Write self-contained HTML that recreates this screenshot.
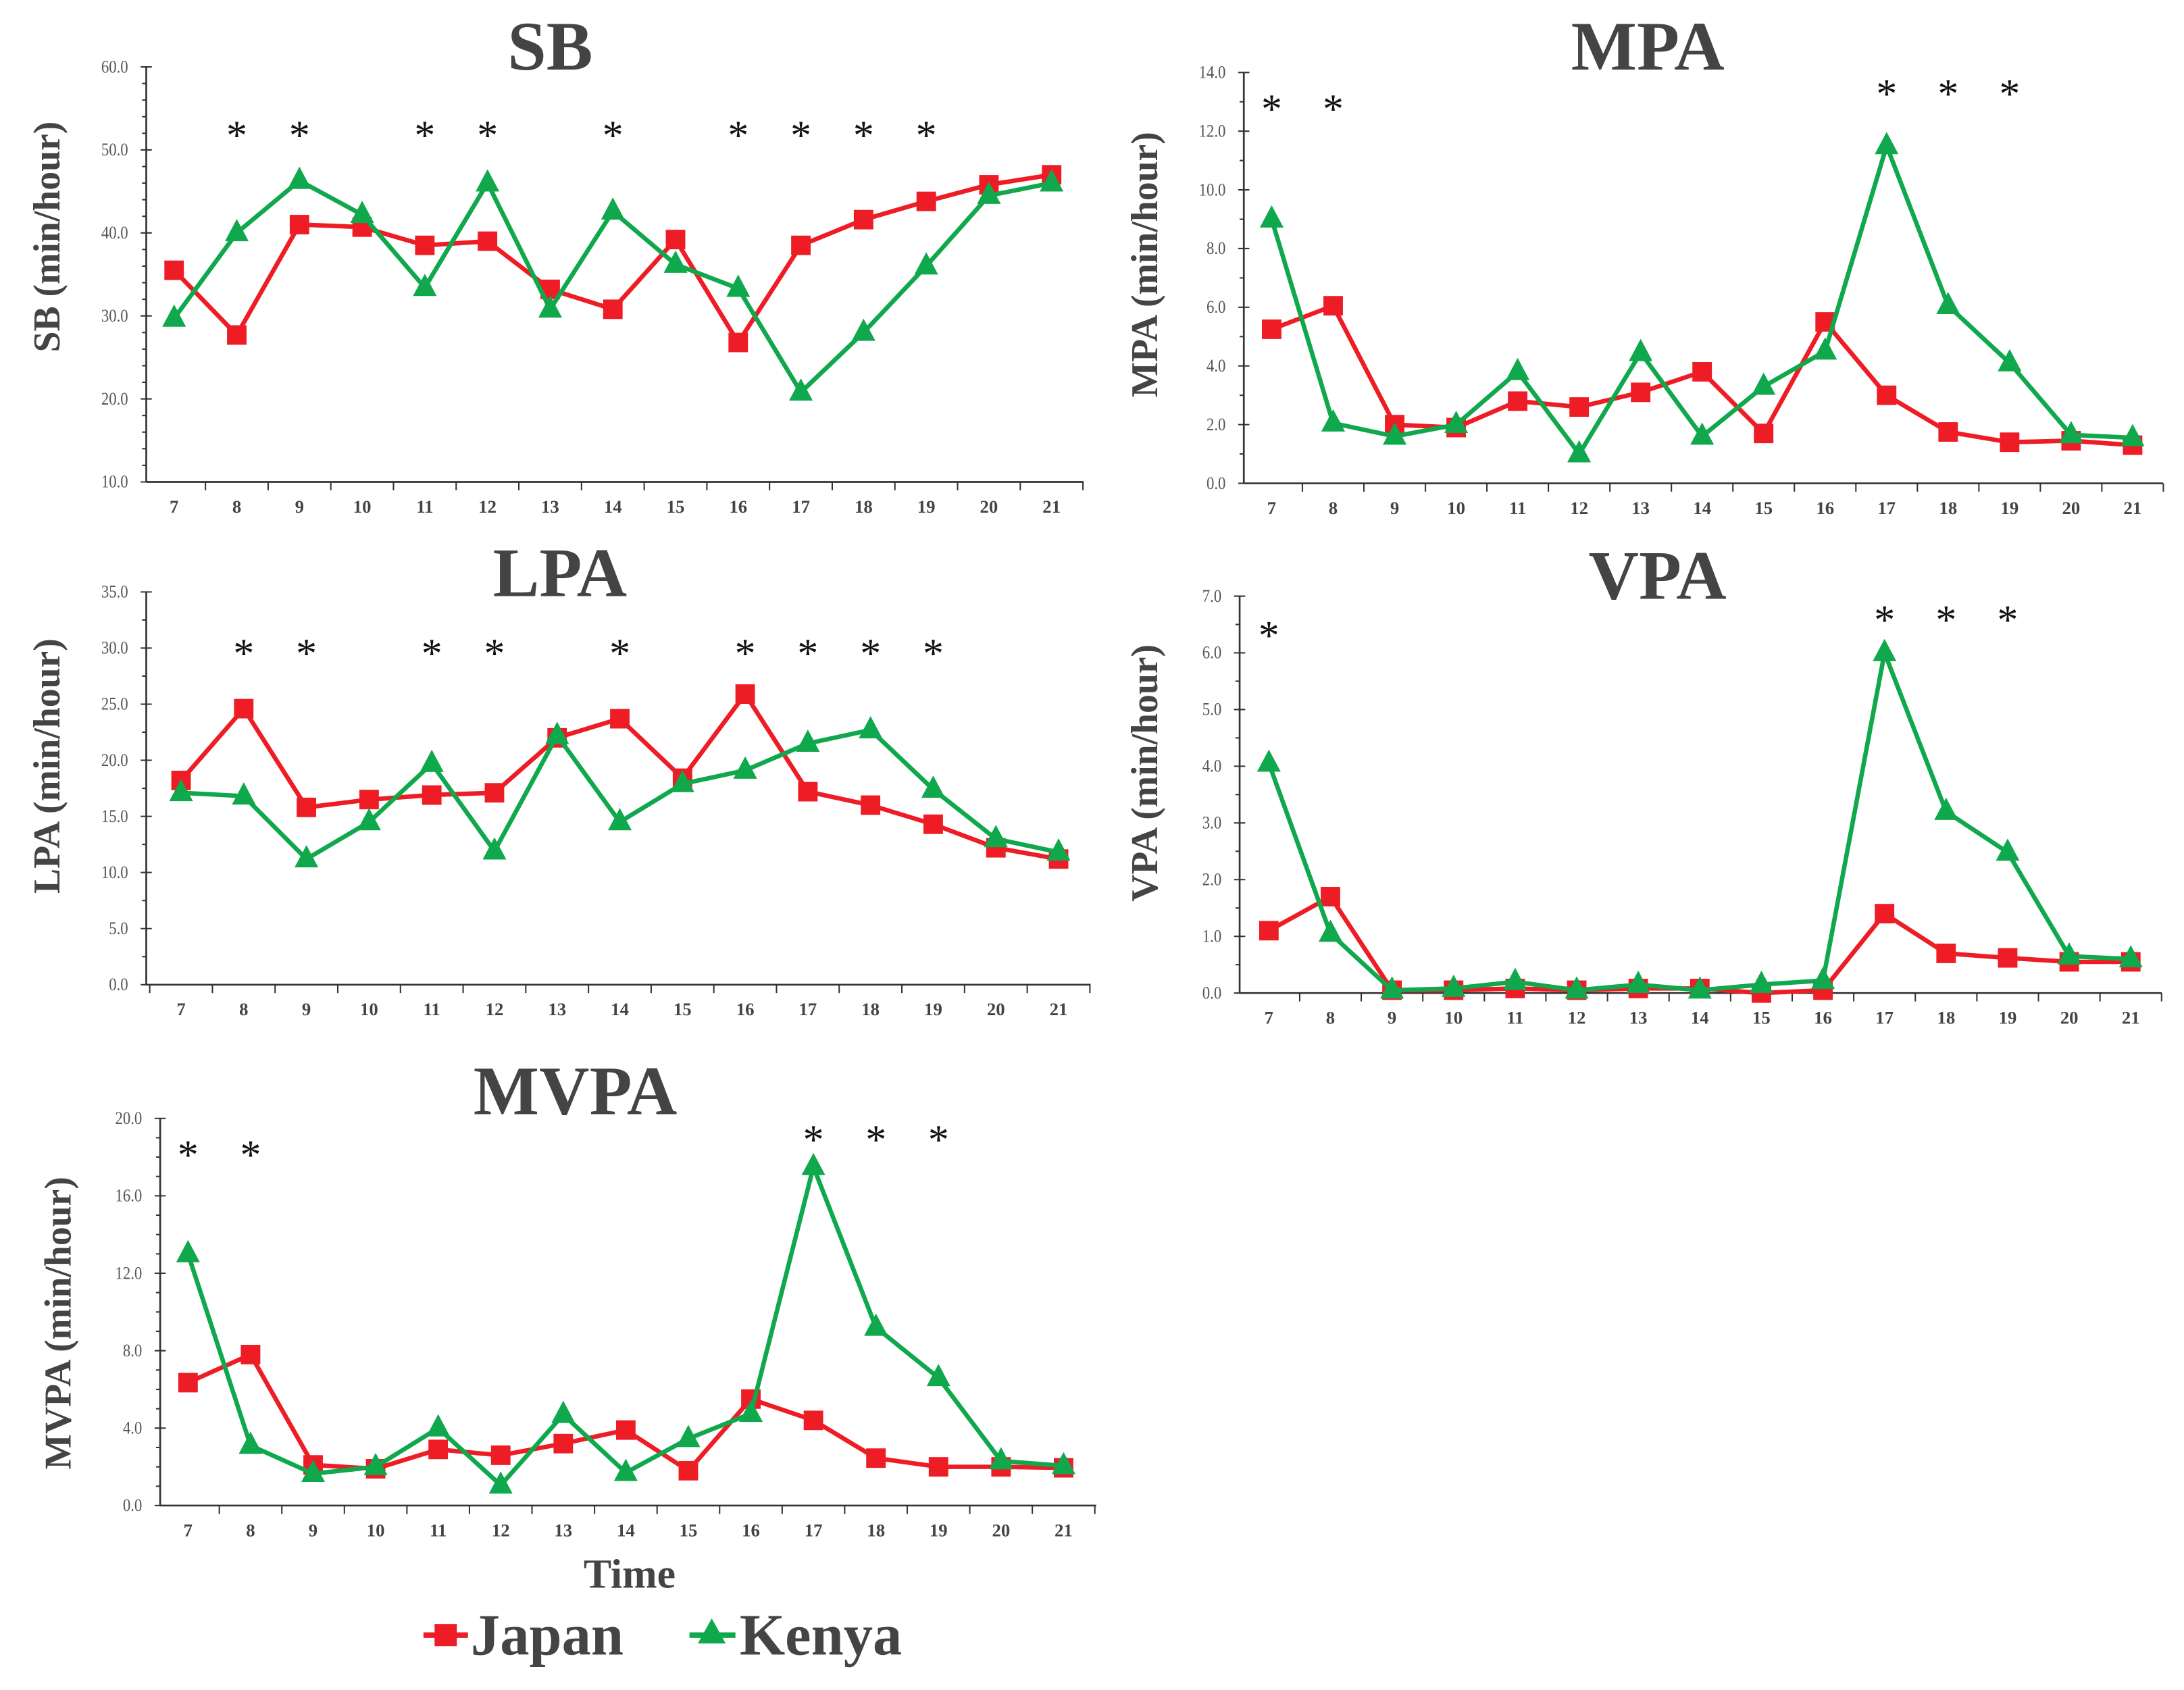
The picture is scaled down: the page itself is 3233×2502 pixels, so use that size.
<!DOCTYPE html>
<html><head><meta charset="utf-8">
<style>html,body{margin:0;padding:0;background:#fff}svg{display:block}</style>
</head><body>
<svg id="fig" width="3233" height="2502" viewBox="0 0 1568 1213.4" xmlns="http://www.w3.org/2000/svg" font-family="'Liberation Serif', serif"></svg>
<script>
const hours = [7,8,9,10,11,12,13,14,15,16,17,18,19,20,21];
const sbJapan = [35.5,27.7,41,40.7,38.5,39,33.2,30.8,39.2,26.8,38.5,41.6,43.8,45.8,47];
const sbKenya = [29.7,40,46.3,42.2,33.4,46,30.8,42.6,36.2,33.3,20.8,28,36,44.5,46];
const mpaJapan = [5.25,6.05,2.0,1.9,2.8,2.6,3.1,3.8,1.7,5.5,3.0,1.75,1.4,1.45,1.3];
const mpaKenya = [9.0,2.05,1.6,2.0,3.8,1.0,4.45,1.6,3.3,4.5,11.5,6.05,4.1,1.65,1.55];
const lpaJapan = [18.2,24.6,15.8,16.5,16.9,17.1,22,23.7,18.4,25.9,17.2,16,14.3,12.2,11.2];
const lpaKenya = [17.1,16.8,11.2,14.5,19.7,11.9,22.2,14.5,17.9,19.1,21.5,22.7,17.4,13,11.8];
const vpaJapan = [1.1,1.7,0.05,0.05,0.08,0.05,0.08,0.08,0.0,0.05,1.4,0.7,0.62,0.55,0.55];
const vpaKenya = [4.05,1.05,0.05,0.08,0.2,0.05,0.15,0.05,0.15,0.22,6.0,3.2,2.48,0.65,0.6];
const mvpaJapan = [6.35,7.8,2.1,1.9,2.9,2.6,3.2,3.9,1.8,5.5,4.4,2.45,2.0,2.0,1.95];
const mvpaKenya = [13.0,3.1,1.65,2.0,4.0,1.05,4.7,1.7,3.45,4.75,17.5,9.2,6.6,2.3,2.05];
const sbTicks = [10,20,30,40,50,60];
const mpaTicks = [0,2,4,6,8,10,12,14];
const lpaTicks = [0,5,10,15,20,25,30,35];
const vpaTicks = [0,1,2,3,4,5,6,7];
const mvpaTicks = [0,4,8,12,16,20];
const sbStars = [8,9,11,12,14,16,17,18,19];
const mpaStars = [7,8,17,18,19];
const lpaStars = [8,9,11,12,14,16,17,18,19];
const vpaStars = [7,17,18,19];
const mvpaStars = [7,8,17,18,19];

const NS = "http://www.w3.org/2000/svg";
const svg = document.getElementById('fig');
const RED = "#ee1c25", GREEN = "#10a84c";
function mk(tag, attrs, parent){ const e=document.createElementNS(NS,tag); for(const k in attrs) e.setAttribute(k,attrs[k]); (parent||svg).appendChild(e); return e; }

const panels = [
 {key:'sb', title:'SB', ylab:'SB (min/hour)', ja:sbJapan, ke:sbKenya, ticks:sbTicks, minor:5, stars:sbStars,
  ax:105, xEnd:778, yTopV:60, yBotV:10, yTop:48, yBot:346, x0:125, step:45, tx:395, ty:50, lx:34, ly:170, starEarlyY:95},
 {key:'mpa', title:'MPA', ylab:'MPA (min/hour)', ja:mpaJapan, ke:mpaKenya, ticks:mpaTicks, minor:2, stars:mpaStars,
  ax:893, xEnd:1553, yTopV:14, yBotV:0, yTop:52, yBot:347, x0:913, step:44.15, tx:1183, ty:50, lx:822, ly:190, starEarlyY:76, starLateY:65},
 {key:'lpa', title:'LPA', ylab:'LPA (min/hour)', ja:lpaJapan, ke:lpaKenya, ticks:lpaTicks, minor:2, stars:lpaStars,
  ax:105, xEnd:783, yTopV:35, yBotV:0, yTop:425, yBot:707, x0:130, step:45, tx:402, ty:428, lx:34, ly:550, starEarlyY:467},
 {key:'vpa', title:'VPA', ylab:'VPA (min/hour)', ja:vpaJapan, ke:vpaKenya, ticks:vpaTicks, minor:2, stars:vpaStars,
  ax:890, xEnd:1552, yTopV:7, yBotV:0, yTop:428, yBot:713, x0:911, step:44.2, tx:1190, ty:430, lx:822, ly:555, starEarlyY:454, starLateY:443},
 {key:'mvpa', title:'MVPA', ylab:'MVPA (min/hour)', ja:mvpaJapan, ke:mvpaKenya, ticks:mvpaTicks, minor:4, stars:mvpaStars,
  ax:115, xEnd:787, yTopV:20, yBotV:0, yTop:803, yBot:1081, x0:135, step:44.9, tx:413, ty:800, lx:42, ly:950, starEarlyY:827, starLateY:816}
];

panels.forEach(p=>{
  const g = mk('g',{});
  
  
  const xs = i => p.x0 + i*p.step;
  const ys = v => p.yBot - (v - p.yBotV)/(p.yTopV - p.yBotV)*(p.yBot - p.yTop);
  const t = mk('text',{x:p.tx,y:p.ty,'text-anchor':'middle','font-size':50,'font-weight':'bold',fill:'#444'},g);
  t.textContent = p.title;
  
  
  const yAxis = mk('line',{x1:p.ax,y1:p.yTop,x2:p.ax,y2:p.yBot,stroke:'#333','stroke-width':1.3},g);
  
  
  const xAxis = mk('line',{x1:p.ax,y1:p.yBot,x2:p.xEnd,y2:p.yBot,stroke:'#333','stroke-width':1.3},g);
  
  
  for(let k=0;k<p.ticks.length;k++){
    const v=p.ticks[k], y=ys(v);
    mk('line',{x1:p.ax-4,y1:y,x2:p.ax+4,y2:y,stroke:'#333','stroke-width':1},g);
    const lb = mk('text',{x:p.ax-13,y:y+4,'text-anchor':'end','font-size':13,fill:'#555',transform:`translate(${p.ax-13},0) scale(0.85,1) translate(${-(p.ax-13)},0)`},g);
    lb.textContent = v.toFixed(1);
    
    
    if(k<p.ticks.length-1){
      const d=(p.ticks[k+1]-v)/p.minor;
      for(let m=1;m<p.minor;m++){ const yy=ys(v+m*d); mk('line',{x1:p.ax-3,y1:yy,x2:p.ax,y2:yy,stroke:'#333','stroke-width':1},g); }
    }
  }
  for(let i=0;i<=hours.length;i++){
    const x=p.x0+(i-0.5)*p.step;
    if(x>p.ax+2) mk('line',{x1:x,y1:p.yBot,x2:x,y2:p.yBot+6,stroke:'#333','stroke-width':1},g);
  }
  hours.forEach((h,i)=>{
    const lb = mk('text',{x:xs(i),y:p.yBot+22,'text-anchor':'middle','font-size':13,fill:'#444','font-weight':'bold'},g);
    lb.textContent = h;
    
    
  });
  const yl = mk('text',{x:p.lx,y:p.ly,'text-anchor':'middle','font-size':27,'font-weight':'bold',fill:'#444',transform:`rotate(-90 ${p.lx} ${p.ly})`,'dominant-baseline':'central'},g);
  yl.textContent = p.ylab;
  
  
  p.stars.forEach(h=>{
    const i=hours.indexOf(h);
    const sy = (h>=17 && p.starLateY) ? p.starLateY : p.starEarlyY;
    const s = mk('text',{x:xs(i),y:sy+12,'text-anchor':'middle','font-size':30,fill:'#111'},g);
    s.textContent='*';
    
    
  });
  [[p.ja,RED,'japan','sq'],[p.ke,GREEN,'kenya','tri']].forEach(([arr,col,nm,mkType])=>{
    const pts = arr.map((v,i)=>xs(i).toFixed(1)+','+ys(v).toFixed(1)).join(' ');
    const pl = mk('polyline',{points:pts,fill:'none',stroke:col,'stroke-width':3.2,'stroke-linejoin':'round'},g);
    
    
    arr.forEach((v,i)=>{
      const x=xs(i), y=ys(v);
      let m;
      if(mkType==='sq') m = mk('rect',{x:x-7,y:y-7,width:14,height:14,fill:col},g);
      else m = mk('polygon',{points:`${x},${y-10} ${x-8.5},${y+6} ${x+8.5},${y+6}`,fill:col},g);
      
      
    });
  });
});

const tl = mk('text',{x:452,y:1140,'text-anchor':'middle','font-size':30,'font-weight':'bold',fill:'#444'});
tl.textContent='Time';


const lg = mk('g',{});


const l1 = mk('g',{},lg);


mk('line',{x1:304,y1:1174,x2:336,y2:1174,stroke:RED,'stroke-width':4},l1);
mk('rect',{x:312,y:1166,width:16,height:16,fill:RED},l1);
const j = mk('text',{x:338,y:1188,'font-size':42,'font-weight':'bold',fill:'#444'},l1);
j.textContent='Japan';
const l2 = mk('g',{},lg);


mk('line',{x1:495,y1:1174,x2:528,y2:1174,stroke:GREEN,'stroke-width':4},l2);
mk('polygon',{points:'511,1162 501,1180 521,1180',fill:GREEN},l2);
const k = mk('text',{x:531,y:1188,'font-size':42,'font-weight':'bold',fill:'#444'},l2);
k.textContent='Kenya';
</script>
</body></html>
